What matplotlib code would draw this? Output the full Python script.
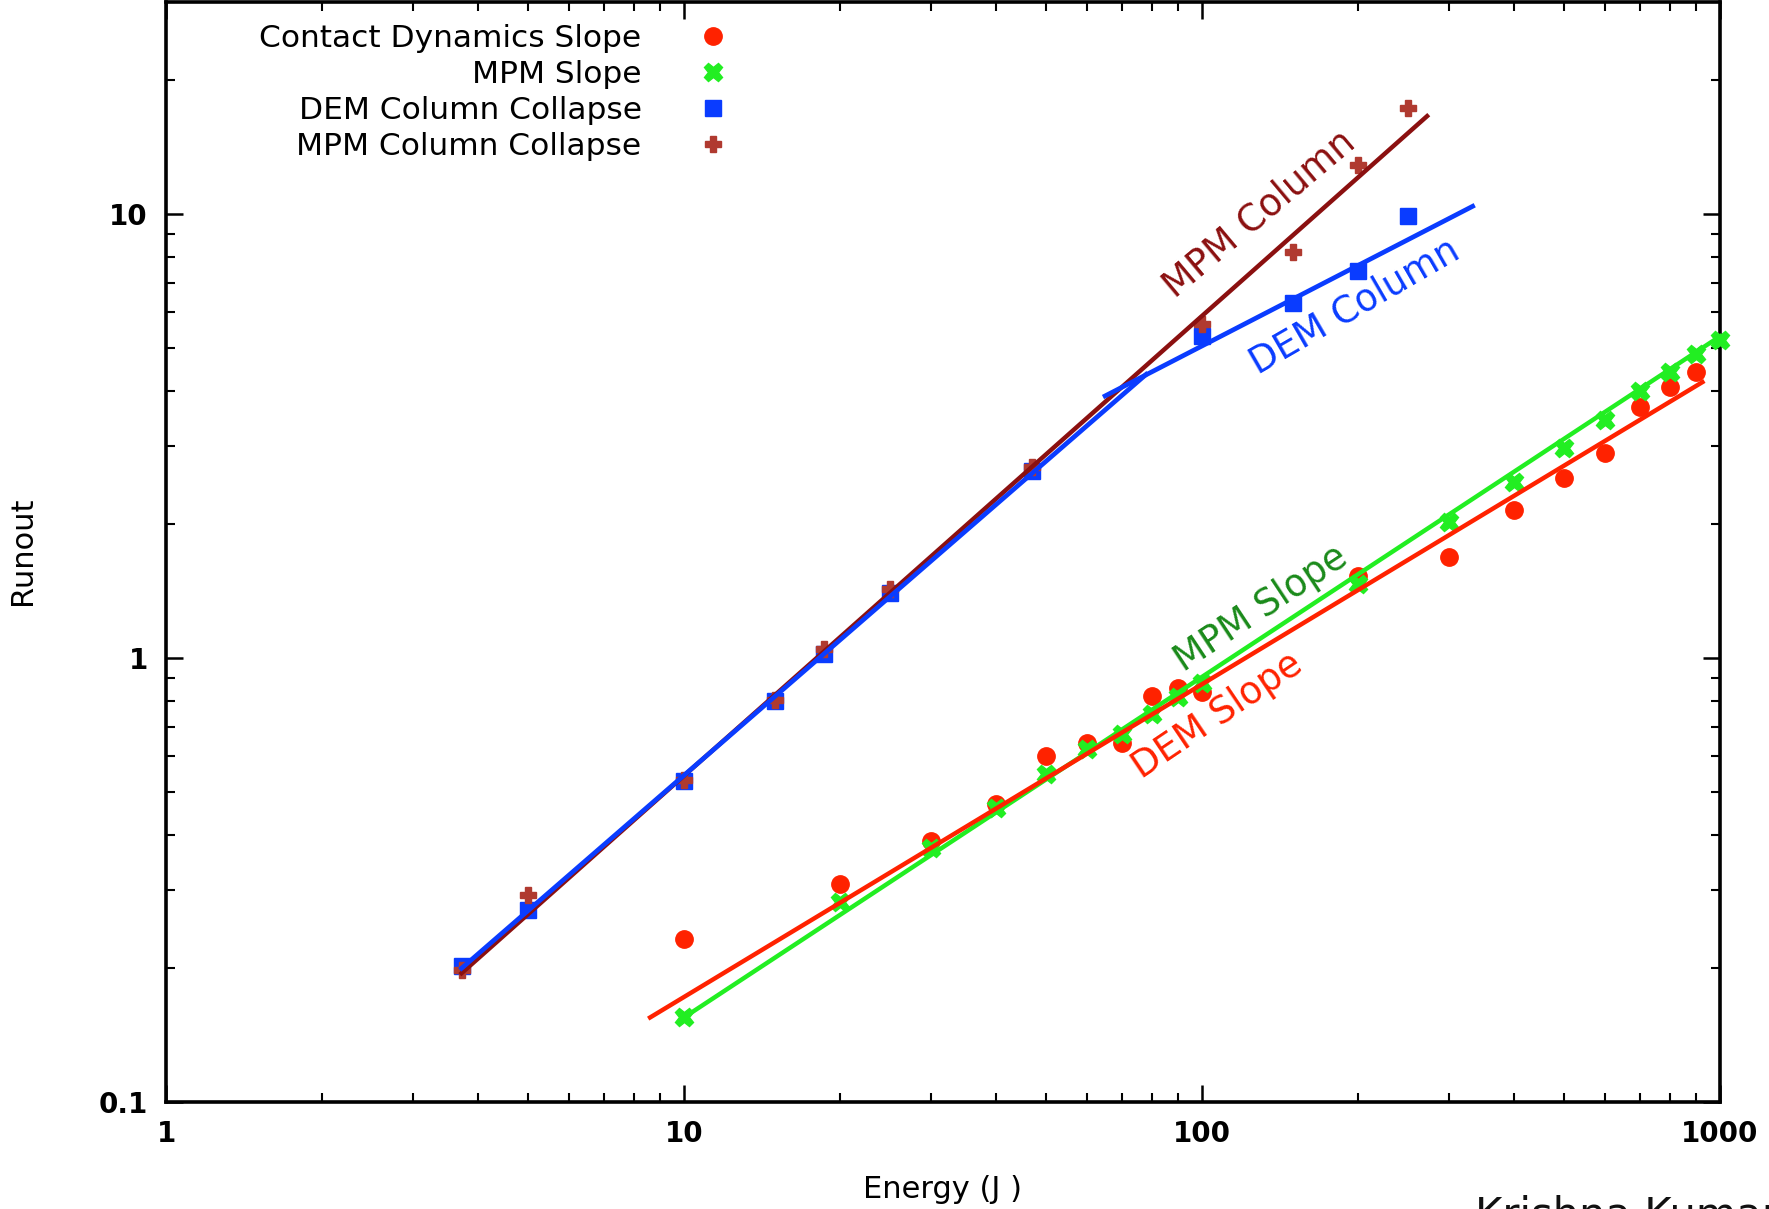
import matplotlib
matplotlib.use("Agg")
import matplotlib.pyplot as plt
from matplotlib.ticker import FixedLocator, FixedFormatter, LogLocator, NullFormatter

# ---------------- data ----------------
# Contact Dynamics Slope (red circles)
cd_energy = [10, 20, 30, 40, 50, 60, 70, 80, 90, 100, 200, 300, 400, 500, 600, 700, 800, 900]
cd_runout = [0.233, 0.31, 0.387, 0.47, 0.60, 0.645, 0.645, 0.82, 0.854, 0.839, 1.53, 1.69, 2.15, 2.54, 2.90, 3.67, 4.08, 4.40]

# MPM Slope (green crosses)
mpms_energy = [10, 20, 30, 40, 50, 60, 70, 80, 90, 100, 200, 300, 400, 500, 600, 700, 800, 900, 1000]
mpms_runout = [0.155, 0.282, 0.374, 0.46, 0.547, 0.623, 0.673, 0.746, 0.815, 0.88, 1.47, 2.02, 2.49, 2.97, 3.44, 4.0, 4.4, 4.84, 5.19]

# DEM Column Collapse (blue squares)
demc_energy = [3.72, 5, 10, 15, 18.6, 25, 47, 100, 150, 200, 250]
demc_runout = [0.202, 0.271, 0.528, 0.80, 1.02, 1.40, 2.64, 5.32, 6.30, 7.42, 9.88]

# MPM Column Collapse (brown plus)
mpmc_energy = [3.72, 5, 10, 15, 18.6, 25, 47, 100, 150, 200, 250]
mpmc_runout = [0.198, 0.292, 0.53, 0.805, 1.05, 1.43, 2.69, 5.66, 8.22, 12.9, 17.3]

# fitted lines (endpoints)
fit_mpmc_energy = [3.72, 272]
fit_mpmc_runout = [0.195, 16.6]
fit_demc1_energy = [3.72, 78]
fit_demc1_runout = [0.20, 4.35]
fit_demc2_energy = [65, 333]
fit_demc2_runout = [3.89, 10.4]
fit_mpms_energy = [10, 1000]
fit_mpms_runout = [0.155, 5.3]
fit_dems_energy = [8.6, 925]
fit_dems_runout = [0.155, 4.18]

legend_labels = ["Contact Dynamics Slope", "MPM Slope", "DEM Column Collapse", "MPM Column Collapse"]
x_ticks = [1, 10, 100, 1000]
x_tick_labels = ["1", "10", "100", "1000"]
y_ticks = [0.1, 1, 10]
y_tick_labels = ["0.1", "1", "10"]

# ---------------- styles ----------------
RED = "#ff2200"
GREEN = "#22ee22"
BLUE = "#0a3cff"
BROWN_PT = "#b03a30"
BROWN_LN = "#8b1010"
DARKGREEN = "#1a8a1a"

plt.rcParams['font.family'] = ['DejaVu Sans']

fig = plt.figure(figsize=(17.69, 12.09), dpi=100)
ax = fig.add_axes([166 / 1769, 107 / 1209, 1554 / 1769, 1100 / 1209])
ax.set_xscale('log')
ax.set_yscale('log')
ax.set_xlim(1, 1000)
ax.set_ylim(0.1, 30)

# points
ax.plot(cd_energy, cd_runout, linestyle='none', marker='o', ms=12.5, color=RED,
        mec=RED, label=legend_labels[0], zorder=3)
ax.plot(mpms_energy, mpms_runout, linestyle='none', marker='X', ms=13.5, color=GREEN,
        mec=GREEN, label=legend_labels[1], zorder=3, clip_on=False)
ax.plot(demc_energy, demc_runout, linestyle='none', marker='s', ms=11, color=BLUE,
        mec=BLUE, label=legend_labels[2], zorder=3)
ax.plot(mpmc_energy, mpmc_runout, linestyle='none', marker='P', ms=12, color=BROWN_PT,
        mec=BROWN_PT, label=legend_labels[3], zorder=3)

# fit lines
ax.plot(fit_mpmc_energy, fit_mpmc_runout, color=BROWN_LN, lw=3.2, zorder=4)
ax.plot(fit_demc1_energy, fit_demc1_runout, color=BLUE, lw=3.4, zorder=4)
ax.plot(fit_demc2_energy, fit_demc2_runout, color=BLUE, lw=3.4, zorder=4)
ax.plot(fit_mpms_energy, fit_mpms_runout, color=GREEN, lw=3.2, zorder=4, clip_on=False)
ax.plot(fit_dems_energy, fit_dems_runout, color=RED, lw=3.2, zorder=4)

# annotations
ann_kw = dict(ha='center', va='center', rotation_mode='anchor', fontsize=26.5, zorder=5)
ax.text(129, 10.0, "MPM Column", color=BROWN_LN, rotation=40, **ann_kw)
ax.text(197, 6.2, "DEM Column", color=BLUE, rotation=30, **ann_kw)
ax.text(130, 1.29, "MPM Slope", color=DARKGREEN, rotation=33.5, **ann_kw)
ax.text(107, 0.742, "DEM Slope", color=RED, rotation=34, **ann_kw)

# axes styling
for s in ax.spines.values():
    s.set_linewidth(2.6)
ax.xaxis.set_major_locator(FixedLocator(x_ticks))
ax.xaxis.set_major_formatter(FixedFormatter(x_tick_labels))
ax.yaxis.set_major_locator(FixedLocator(y_ticks))
ax.yaxis.set_major_formatter(FixedFormatter(y_tick_labels))
ax.xaxis.set_minor_locator(LogLocator(base=10, subs=range(2, 10)))
ax.yaxis.set_minor_locator(LogLocator(base=10, subs=range(2, 10)))
ax.xaxis.set_minor_formatter(NullFormatter())
ax.yaxis.set_minor_formatter(NullFormatter())
ax.tick_params(which='both', direction='in', top=True, right=True, color='black')
ax.tick_params(which='major', length=12, width=1.8, labelsize=20, pad=13)
ax.tick_params(which='minor', length=6.5, width=1.5)
for t in ax.get_xticklabels() + ax.get_yticklabels():
    t.set_fontweight('bold')

ax.set_xlabel("Energy (J )", fontsize=22)
ax.set_ylabel("Runout", fontsize=22)
ax.xaxis.set_label_coords((942 - 166) / 1554, -(1190 - 1102) / 1100)
ax.yaxis.set_label_coords(-(166 - 22) / 1554, (1102 - 551) / 1100)
ax.xaxis.label.set_va('center')
ax.xaxis.label.set_ha('center')
ax.yaxis.label.set_va('center')
ax.yaxis.label.set_ha('center')

# legend
leg = ax.legend(loc='upper right', bbox_to_anchor=(729 / 1769, (1209 - 24) / 1209),
                bbox_transform=fig.transFigure, frameon=False, markerfirst=False,
                numpoints=1, handlelength=1.0, handletextpad=1.8, labelspacing=0.22,
                borderpad=0, borderaxespad=0, fontsize=22.5)

fig.text(1475 / 1769, 14 / 1209, "Krishna Kumar", fontsize=30, ha='left', va='top', color='#111111')

fig.savefig("out.png", dpi=100)
